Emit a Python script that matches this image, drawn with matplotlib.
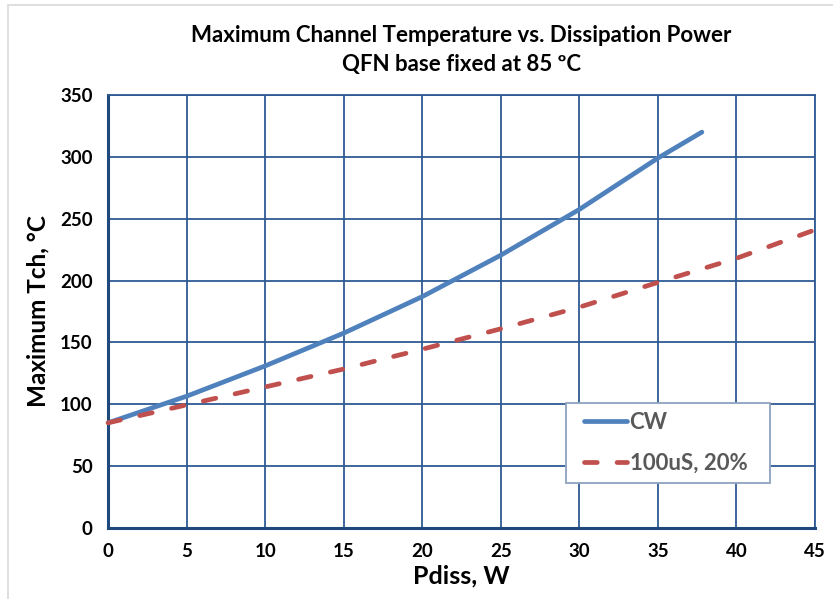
import matplotlib
matplotlib.use("Agg")
import matplotlib.pyplot as plt
from matplotlib.patches import Rectangle

# values
cw_power = [0, 5, 10, 15, 20, 25, 30, 35, 37.8]
cw_tch = [85, 106.5, 131, 157.5, 187, 220.5, 257.5, 299, 320]
pulse_power = [0, 5, 10, 15, 20, 25, 30, 35, 40, 45]
pulse_tch = [85, 99.5, 114, 128.5, 144.5, 161, 178.5, 198.5, 218, 241]
x_ticks = [0, 5, 10, 15, 20, 25, 30, 35, 40, 45]
y_ticks = [0, 50, 100, 150, 200, 250, 300, 350]

plt.rcParams['font.family'] = ['Lato', 'DejaVu Sans']
plt.rcParams['font.weight'] = 'bold'

grid_col = "#2E5A94"
spine_col = "#1F497D"
W, H = 833, 599

fig = plt.figure(figsize=(8.33, 5.99), dpi=100)
ax = fig.add_axes([108/W, 1 - 528/H, 707/W, 433/H])

# light chart-area border like the spreadsheet export
fig.patches.append(Rectangle((8/W, -0.1), 1.2, 1.1 - 5/H, transform=fig.transFigure,
                             fill=False, edgecolor="#D9D9D9", linewidth=1.2))

ax.plot(cw_power, cw_tch, color="#4F81BD", lw=3.4, solid_capstyle="round",
        solid_joinstyle="round", label="CW", zorder=3)
ax.plot(pulse_power, pulse_tch, color="#C0504D", lw=3.4, dashes=(2.7, 4.2),
        dash_capstyle="round", label="100uS, 20%", zorder=3, clip_on=False)

ax.set_xlim(0, 45)
ax.set_ylim(0, 350)
ax.set_xticks(x_ticks)
ax.set_yticks(y_ticks)
ax.tick_params(length=0, labelsize=13.5, pad=11)
for lab in ax.get_xticklabels() + ax.get_yticklabels():
    lab.set_fontweight("bold")
ax.grid(True, color=grid_col, lw=1.3)
ax.set_axisbelow(True)
for side in ["left", "bottom"]:
    ax.spines[side].set_color(spine_col)
    ax.spines[side].set_linewidth(2.2)
for side in ["top", "right"]:
    ax.spines[side].set_color(grid_col)
    ax.spines[side].set_linewidth(1.3)

ax.set_xlabel("Pdiss, W", fontsize=18, fontweight="bold", labelpad=3)
ax.set_ylabel("Maximum Tch, °C", fontsize=17.5, fontweight="bold", labelpad=8)

fig.text(461.5/W, 1 - 35/H, "Maximum Channel Temperature vs. Dissipation Power",
         ha="center", va="center", fontsize=16, fontweight="bold")
fig.text(461.5/W, 1 - 65/H, "QFN base fixed at 85 ºC",
         ha="center", va="center", fontsize=16, fontweight="bold")

# legend frame drawn separately so the padding can match the reference
ax.add_patch(Rectangle((566/W, 1 - 483/H), 204/W, 80/H, transform=fig.transFigure,
                       facecolor="white", edgecolor="#8EA3C0", linewidth=1.3,
                       zorder=4, clip_on=False))
leg = ax.legend(loc="upper left", bbox_to_anchor=((584-108)/707, (528-412)/433),
                frameon=False, fontsize=16, handlelength=1.95,
                handletextpad=0.1, labelspacing=0.9, borderpad=0,
                borderaxespad=0, labelcolor="#595959")
leg.set_zorder(5)

fig.savefig("out.png", dpi=100)
